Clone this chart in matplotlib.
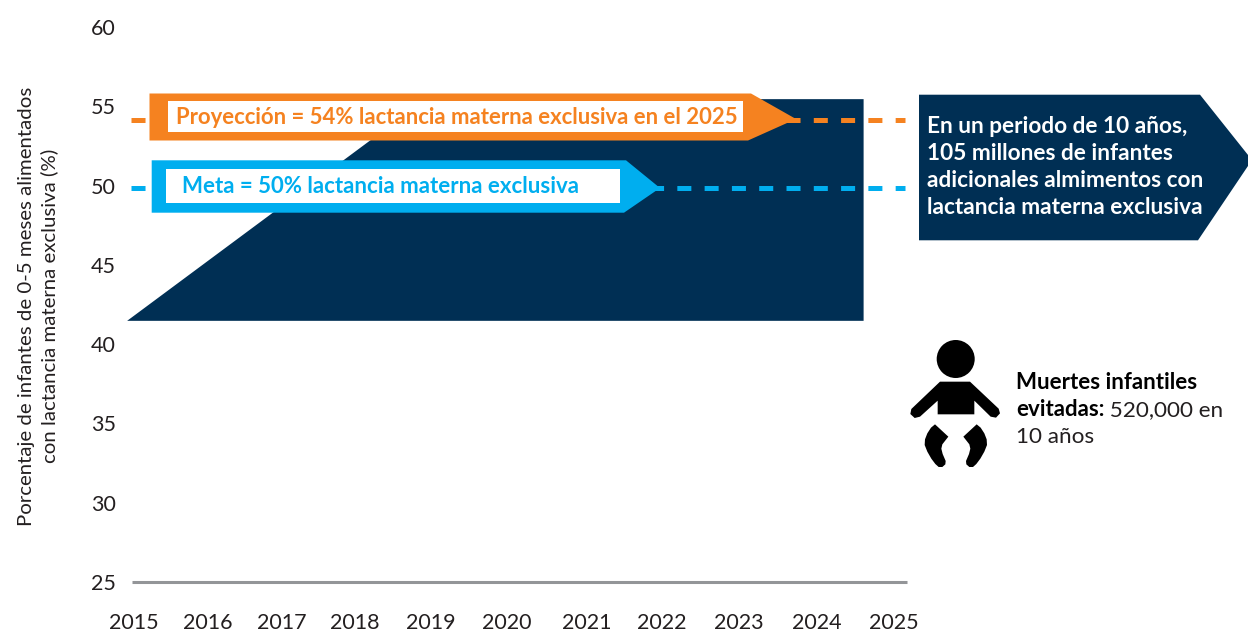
import matplotlib
matplotlib.use("Agg")
from matplotlib import pyplot as plt
from matplotlib import transforms
from matplotlib.patches import Circle, Polygon, Rectangle

# =============================================================================
# Data:
# =============================================================================

YEARS = ["2015", "2016", "2017", "2018", "2019", "2020", "2021", "2022", "2023", "2024", "2025"]
YEAR_TICKS = [2015, 2015.97, 2016.95, 2017.91, 2018.9, 2019.9, 2020.96, 2021.95, 2022.96, 2023.99, 2025]
Y_TICKS = [25, 30, 35, 40, 45, 50, 55, 60]

AREA_X = [2014.91, 2018.84, 2024.6, 2024.6]
AREA_Y = [41.47, 55.45, 55.45, 41.47]

TARGET = 50
PROJECTION = 54
LINE_X = [2014.96, 2025.15]

CALLOUT_LINES = ["En un periodo de 10 años,", "105 millones de infantes",
                 "adicionales almimentos con", "lactancia materna exclusiva"]

NAVY = "#002F54"
ORANGE = "#F58220"
BLUE = "#00AEEF"
GREY = "#939598"
INK = "#231F20"
W, H = 1248, 633

plt.rcParams["font.family"] = ["Lato", "DejaVu Sans"]
plt.rcParams["lines.scale_dashes"] = False

fig = plt.figure(figsize=(W / 100, H / 100), dpi=100)
ax = fig.add_axes([132 / W, 1 - 582 / H, (907 - 132) / W, (582 - 27) / H])
ax.patch.set_alpha(0)
ax.set_xlim(2014.974, 2025.171)
ax.set_ylim(25, 60)

for side in ["top", "right", "left"]:
    ax.spines[side].set_visible(False)
ax.spines["bottom"].set_color(GREY)
ax.spines["bottom"].set_linewidth(2.2)
ax.spines["bottom"].set_capstyle("butt")
ax.spines["bottom"].set_zorder(1)

ax.set_xticks(YEAR_TICKS, YEARS)
ax.set_yticks(Y_TICKS)
ax.tick_params(axis="both", length=0, labelsize=15.5, labelcolor=INK)
ax.tick_params(axis="x", pad=22.5)
ax.tick_params(axis="y", pad=11.5)

# pixel space, origin top left, for everything outside the axes
px = transforms.Affine2D().scale(1, -1).translate(0, H)

fig.text(38 / W, 1 - 306 / H, "Porcentaje de infantes de 0-5 meses alimentados\ncon lactancia materna exclusiva (%)",
         rotation=90, ha="center", va="center", ma="center", fontsize=14.7, color=INK, linespacing=1.3)

# =============================================================================
# Gain area, dashed lines and arrow banners:
# =============================================================================

ax.add_patch(Polygon(list(zip(AREA_X, AREA_Y)), closed=True, facecolor=NAVY, edgecolor="none", zorder=2, clip_on=False))


def draw_line(value, color, shift):
    # lines sit a few pixels off the tick rows, as the banners are set by hand
    offset = transforms.ScaledTranslation(0, shift / 100, fig.dpi_scale_trans)
    ax.plot(LINE_X, [value, value], color=color, lw=3.6, dashes=(10.1, 9.55), dash_capstyle="butt",
            transform=ax.transData + offset, zorder=3, clip_on=False)


def draw_banner(outline, inner, color):
    ax.add_patch(Polygon(outline, closed=True, facecolor=color, edgecolor="none", transform=px, zorder=4, clip_on=False))
    x0, y0, x1, y1 = inner
    ax.add_patch(Rectangle((x0, y0), x1 - x0, y1 - y0, facecolor="white", edgecolor="none", transform=px, zorder=5, clip_on=False))


draw_line(PROJECTION, ORANGE, 2.6)
draw_line(TARGET, BLUE, -2.9)

draw_banner([(149.5, 93.5), (751, 93.5), (796, 119), (748, 140.5), (149.5, 140.5)], (168, 101, 743, 131.7), ORANGE)
draw_banner([(151.7, 160.3), (626, 160.3), (660, 188), (624, 212.7), (151.7, 212.7)], (166, 168.5, 620, 203), BLUE)

ax.text(176, 124, "Proyección = 54% lactancia materna exclusiva en el 2025", transform=px, color=ORANGE,
        fontsize=15.9, fontweight="bold", va="baseline", ha="left", zorder=6, clip_on=False)
ax.text(182, 193, "Meta = 50% lactancia materna exclusiva", transform=px, color=BLUE,
        fontsize=16, fontweight="bold", va="baseline", ha="left", zorder=6, clip_on=False)

# =============================================================================
# Callouts on the right:
# =============================================================================

ax.add_patch(Polygon([(919, 94.7), (1200, 94.7), (1252, 160), (1198, 240.3), (919, 240.3)], closed=True,
                     facecolor=NAVY, edgecolor="none", transform=px, clip_on=False))
for i, line in enumerate(CALLOUT_LINES):
    ax.text(927, 132.7 + 27.2 * i, line, transform=px, color="white", fontsize=16.3, fontweight="bold",
            va="baseline", ha="left", clip_on=False)

# baby icon
BX, BY = 900, 330
def zoomed(points):
    return [(BX + x / 3, BY + y / 3) for x, y in points]

BODY = [(120, 155), (210, 155), (296, 236), (300, 250), (288, 263), (272, 260), (223, 212), (223, 253), (113, 253), (113, 212),
        (60, 260), (44, 264), (31, 252), (34, 237)]
LEG = [(105, 283), (145, 320), (127, 343), (124, 356), (128, 372), (137, 393), (136, 403), (127, 411), (116, 411), (106, 402),
       (94, 386), (82, 365), (74, 345), (75, 328), (82, 310), (93, 293)]

ax.add_patch(Circle((955.7, 359), 19, facecolor="black", edgecolor="none", transform=px, clip_on=False))
ax.add_patch(Polygon(zoomed(BODY), closed=True, facecolor="black", edgecolor="none", transform=px, clip_on=False))
ax.add_patch(Polygon(zoomed(LEG), closed=True, facecolor="black", edgecolor="none", transform=px, clip_on=False))
ax.add_patch(Polygon(zoomed([(335 - x, y) for x, y in LEG]), closed=True, facecolor="black", edgecolor="none", transform=px, clip_on=False))

ax.text(1016, 389, "Muertes infantiles", transform=px, color="black", fontsize=16, fontweight="bold", va="baseline", ha="left", clip_on=False)
bold = ax.text(1016, 416.5, "evitadas:", transform=px, color="black", fontsize=16, fontweight="bold", va="baseline", ha="left", clip_on=False)
ax.annotate(" 520,000 en", xy=(1, 0), xycoords=bold, xytext=(0, 0), textcoords="offset points", color=INK, fontsize=16.2,
            va="bottom", ha="left", annotation_clip=False)
ax.text(1016, 443, "10 años", transform=px, color=INK, fontsize=16.2, va="baseline", ha="left", clip_on=False)

plt.savefig("out.png", dpi=100)
plt.close()
